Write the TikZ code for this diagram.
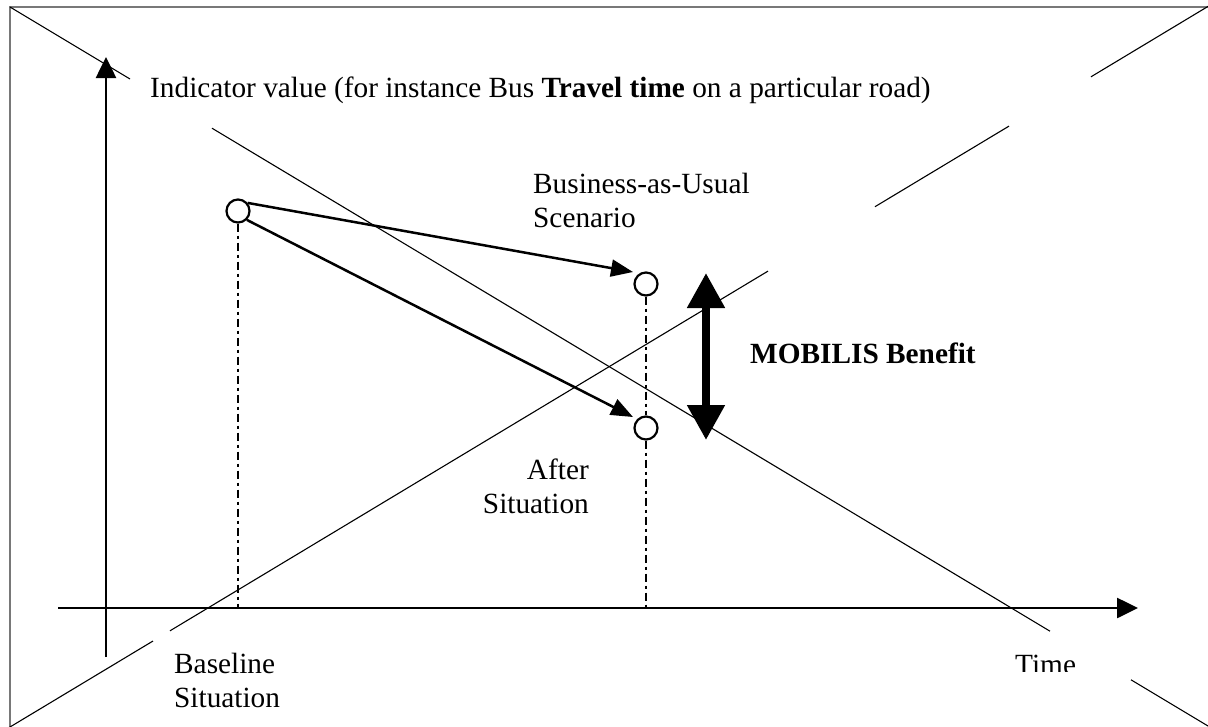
\documentclass[tikz,border=0pt]{standalone}
\usepackage{fontspec}
\setmainfont{Liberation Serif}
\usetikzlibrary{arrows.meta}
\begin{document}
\begin{tikzpicture}[x=1pt,y=-1pt,
  lbl/.style={inner sep=0pt,font=\fontsize{29.3}{34}\selectfont},
  dot/.style={circle,draw,line width=2.2pt,minimum size=23pt,inner sep=0pt},
  axisline/.style={line width=2.6pt,-{Triangle[length=21pt,width=20pt]}},
  flow/.style={line width=2.5pt,-{Triangle[length=22pt,width=17pt]}},
  guide/.style={line width=2.2pt,dash pattern=on 8pt off 4pt on 3pt off 4pt},
  diag/.style={line width=1.1pt},
  benefit/.style={line width=8pt,{Triangle[length=35pt,width=36pt]}-{Triangle[length=35pt,width=36pt]}},
  frame/.style={draw={rgb,255:red,120;green,120;blue,120},line width=1.6pt}
]
\useasboundingbox (0,0) rectangle (1208,726);
\clip (0,0) rectangle (1208,726);
% frame
\draw[frame] (10,7) rectangle (1230,750);
% diagonals
\draw[diag] (10,7) -- (130,79.0);
\draw[diag] (212,128.2) -- (1050,631.2);
\draw[diag] (1131,679.8) -- (1215,730.2);
\draw[diag] (8,728.2) -- (153,641.0);
\draw[diag] (170,630.8) -- (768,271.1);
\draw[diag] (875,206.7) -- (1009,126.1);
\draw[diag] (1091,76.8) -- (1212,4);
% axes
\coordinate (ybot) at (106,657);
\coordinate (ytop) at (106,57);
\coordinate (xleft) at (58,608);
\coordinate (xright) at (1138,608);
\draw[axisline] (ybot) -- (ytop);
\draw[axisline] (xleft) -- (xright);
% points
\node[dot] (base) at (238,211) {};
\node[dot] (bau) at (646,284) {};
\node[dot] (after) at (646,428) {};
\coordinate (basefoot) at (238,608);
\coordinate (afterfoot) at (646,608);
\draw[guide] (base.south) -- (basefoot);
\draw[guide] (bau.south) -- (after.north);
\draw[guide] (after.south) -- (afterfoot);
% flows
\coordinate (bautip) at (633,272);
\coordinate (aftertip) at (633,417);
\draw[flow] (base.40) -- (bautip);
\draw[flow] (base.-45) -- (aftertip);
% benefit
\coordinate (btop) at (706,273);
\coordinate (bbot) at (706,440);
\draw[benefit] (bbot) -- (btop);
% labels
\node[lbl,anchor=base west] (ind) at (150,97) {Indicator value (for instance Bus \textbf{Travel time} on a particular road)};
\node[lbl,anchor=north west,align=left] (baulbl) at (533,173) {Business-as-Usual\\Scenario};
\node[lbl,anchor=base west] (benlbl) at (750,363) {\textbf{MOBILIS Benefit}};
\node[lbl,anchor=north east,align=right] (afterlbl) at (589,459) {After\\Situation};
\node[lbl,anchor=north west,align=left] (baselbl) at (174,653) {Baseline\\Situation};
\begin{scope}
\clip (990,630) rectangle (1110,671);
\node[lbl,anchor=base west] (timelbl) at (1015,674) {Time};
\end{scope}
\end{tikzpicture}
\end{document}
